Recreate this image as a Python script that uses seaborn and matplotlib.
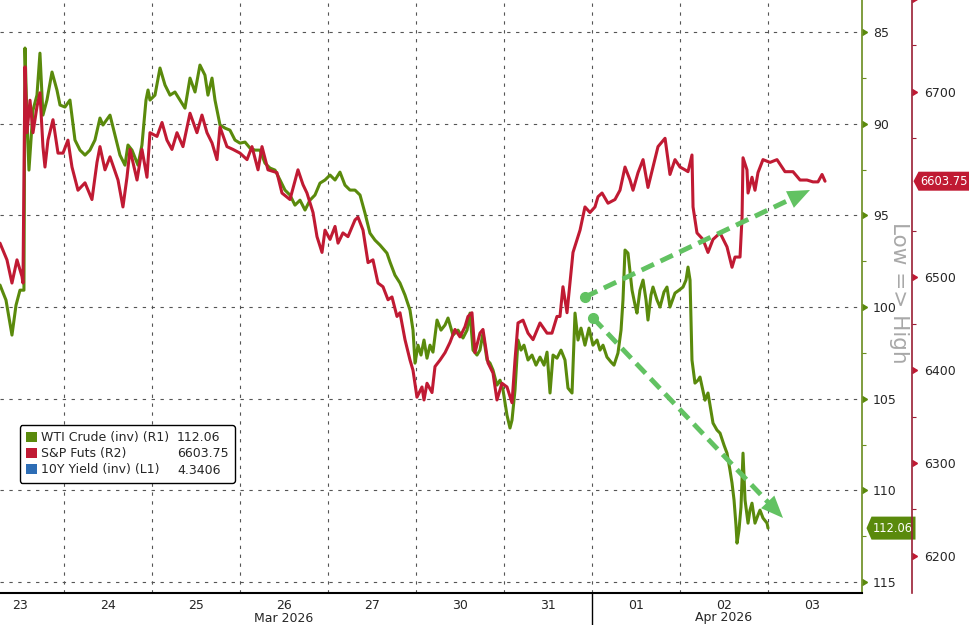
import numpy as np
import matplotlib
matplotlib.use("Agg")
import matplotlib.pyplot as plt
import matplotlib.transforms as mtransforms
from matplotlib.patches import Patch
from matplotlib.path import Path
import seaborn as sns

# trading days on the x axis (0 = Mon 23 Mar ... 9 = Fri 03 Apr)
day_labels = ["23", "24", "25", "26", "27", "30", "31", "01", "02", "03"]
month_labels = ["Mar 2026", "Apr 2026"]
month_centers = [3, 8]
month_break = 6.5

# WTI crude (right axis 1, inverted)
wti_t = [-0.227, -0.159, -0.091, -0.045, 0.000, 0.045, 0.057, 0.080, 0.102, 0.148,
         0.193, 0.227, 0.261, 0.307, 0.364, 0.420, 0.455, 0.511, 0.568, 0.625,
         0.682, 0.739, 0.795, 0.852, 0.909, 0.943, 1.023, 1.080, 1.136, 1.193,
         1.227, 1.273, 1.341, 1.386, 1.432, 1.455, 1.477, 1.534, 1.591, 1.648,
         1.705, 1.761, 1.818, 1.875, 1.932, 1.989, 2.045, 2.102, 2.136, 2.182,
         2.216, 2.273, 2.330, 2.386, 2.443, 2.500, 2.557, 2.614, 2.670, 2.727,
         2.784, 2.841, 2.898, 2.955, 3.011, 3.068, 3.125, 3.182, 3.239, 3.295,
         3.352, 3.409, 3.466, 3.523, 3.580, 3.636, 3.693, 3.750, 3.807, 3.864,
         3.920, 3.977, 4.034, 4.091, 4.170, 4.205, 4.261, 4.318, 4.375, 4.432,
         4.466, 4.489, 4.523, 4.557, 4.591, 4.625, 4.659, 4.693, 4.739, 4.784,
         4.830, 4.864, 4.920, 4.977, 5.034, 5.080, 5.114, 5.148, 5.193, 5.227,
         5.261, 5.307, 5.341, 5.375, 5.420, 5.455, 5.489, 5.534, 5.568, 5.591,
         5.625, 5.659, 5.693, 5.727, 5.773, 5.818, 5.864, 5.909, 5.955, 5.989,
         6.023, 6.057, 6.102, 6.148, 6.193, 6.227, 6.273, 6.307, 6.341, 6.375,
         6.420, 6.466, 6.511, 6.557, 6.591, 6.625, 6.670, 6.716, 6.750, 6.795,
         6.830, 6.852, 6.875, 6.909, 6.955, 6.989, 7.011, 7.045, 7.080, 7.114,
         7.136, 7.170, 7.193, 7.239, 7.273, 7.318, 7.352, 7.386, 7.443, 7.489,
         7.534, 7.568, 7.591, 7.614, 7.636, 7.670, 7.705, 7.727, 7.784, 7.818,
         7.875, 7.920, 7.955, 8.000, 8.034, 8.068, 8.091, 8.114, 8.136, 8.148,
         8.170, 8.193, 8.216, 8.239, 8.273, 8.295, 8.318, 8.352, 8.386, 8.409,
         8.443, 8.489, 8.500]
wti = [98.80, 99.62, 101.53, 99.90, 99.08, 99.08, 85.87, 89.80, 92.53, 89.26,
       88.44, 86.15, 89.53, 88.70, 87.18, 88.16, 88.98, 89.09, 88.71, 90.89,
       91.44, 91.71, 91.44, 90.89, 89.69, 90.07, 89.53, 90.62, 91.71, 92.26,
       91.16, 91.44, 92.26, 91.16, 88.71, 88.16, 88.71, 88.44, 86.96, 87.89,
       88.44, 88.27, 88.71, 89.15, 87.51, 88.27, 86.80, 87.35, 88.44, 87.51,
       88.71, 90.07, 90.24, 90.35, 90.89, 91.06, 91.00, 91.33, 91.44, 91.44,
       92.15, 92.42, 92.53, 93.07, 93.62, 93.89, 94.44, 94.17, 94.71, 94.17,
       93.89, 93.24, 93.07, 92.80, 93.07, 92.64, 93.35, 93.62, 93.62, 93.89,
       94.87, 95.97, 96.35, 96.62, 97.06, 97.55, 98.26, 98.69, 99.35, 100.17,
       101.26, 103.06, 102.08, 102.62, 101.80, 102.79, 102.08, 102.46, 100.71, 101.26,
       100.98, 100.60, 101.53, 101.26, 101.69, 101.26, 100.33, 102.35, 102.62, 102.35,
       101.42, 102.89, 103.06, 103.44, 104.26, 103.99, 104.53, 105.90, 106.60, 106.17,
       104.53, 101.80, 102.35, 102.08, 102.89, 102.62, 103.17, 102.73, 103.17, 102.46,
       104.69, 102.62, 102.79, 102.35, 102.89, 104.42, 104.69, 100.33, 101.80, 101.15,
       102.08, 101.15, 102.08, 101.80, 102.35, 102.08, 102.73, 103.00, 103.17, 102.51,
       101.26, 99.62, 96.89, 97.06, 99.08, 99.89, 100.33, 99.08, 98.53, 99.62,
       100.71, 99.35, 98.91, 99.62, 100.00, 99.18, 98.91, 100.00, 99.24, 99.08,
       98.91, 98.53, 97.82, 98.53, 102.89, 104.15, 103.99, 103.82, 105.08, 104.69,
       106.33, 106.71, 106.88, 107.53, 107.97, 108.90, 109.60, 110.53, 111.90, 112.88,
       112.17, 110.91, 107.97, 110.53, 111.79, 111.08, 110.70, 111.79, 111.35, 111.08,
       111.51, 111.79, 112.06]

# S&P futures (right axis 2)
spx_t = [-0.227, -0.148, -0.091, -0.034, 0.023, 0.034, 0.057, 0.080, 0.114, 0.148,
         0.193, 0.227, 0.261, 0.284, 0.318, 0.375, 0.432, 0.489, 0.545, 0.591,
         0.659, 0.739, 0.818, 0.875, 0.909, 0.966, 1.023, 1.114, 1.170, 1.216,
         1.250, 1.330, 1.386, 1.443, 1.477, 1.557, 1.614, 1.670, 1.727, 1.784,
         1.852, 1.932, 2.011, 2.068, 2.125, 2.182, 2.239, 2.273, 2.352, 2.420,
         2.500, 2.580, 2.636, 2.705, 2.750, 2.818, 2.920, 2.977, 3.068, 3.159,
         3.216, 3.261, 3.330, 3.375, 3.432, 3.466, 3.523, 3.580, 3.614, 3.670,
         3.727, 3.807, 3.841, 3.898, 3.955, 4.011, 4.068, 4.125, 4.182, 4.227,
         4.284, 4.318, 4.375, 4.432, 4.466, 4.511, 4.568, 4.591, 4.625, 4.682,
         4.716, 4.773, 4.830, 4.886, 4.943, 5.000, 5.057, 5.091, 5.136, 5.170,
         5.227, 5.261, 5.318, 5.375, 5.420, 5.477, 5.534, 5.591, 5.625, 5.659,
         5.716, 5.773, 5.830, 5.909, 5.989, 6.045, 6.102, 6.136, 6.170, 6.216,
         6.250, 6.284, 6.330, 6.364, 6.420, 6.477, 6.534, 6.568, 6.614, 6.682,
         6.761, 6.818, 6.875, 6.932, 6.966, 7.023, 7.080, 7.136, 7.193, 7.250,
         7.330, 7.386, 7.443, 7.500, 7.557, 7.591, 7.636, 7.648, 7.693, 7.761,
         7.818, 7.875, 7.955, 8.034, 8.091, 8.125, 8.182, 8.205, 8.216, 8.261,
         8.273, 8.318, 8.352, 8.386, 8.443, 8.523, 8.602, 8.693, 8.784, 8.864,
         8.943, 9.011, 9.068, 9.114, 9.148]
spx = [6537, 6519, 6494, 6519, 6501, 6494, 6727, 6656, 6691, 6656,
       6684, 6699, 6641, 6619, 6648, 6670, 6634, 6634, 6648, 6619,
       6594, 6602, 6584, 6624, 6641, 6616, 6630, 6605, 6576, 6608,
       6638, 6605, 6638, 6608, 6656, 6652, 6667, 6648, 6638, 6656,
       6641, 6677, 6656, 6675, 6656, 6645, 6627, 6662, 6641, 6638,
       6634, 6627, 6641, 6616, 6641, 6616, 6613, 6591, 6584, 6616,
       6600, 6591, 6570, 6544, 6527, 6551, 6541, 6555, 6537, 6548,
       6544, 6562, 6565, 6551, 6516, 6519, 6494, 6490, 6476, 6479,
       6458, 6462, 6433, 6411, 6400, 6371, 6382, 6368, 6386, 6376,
       6404, 6411, 6419, 6430, 6444, 6436, 6447, 6458, 6462, 6419,
       6440, 6444, 6408, 6397, 6368, 6386, 6382, 6365, 6411, 6451,
       6454, 6440, 6433, 6451, 6440, 6440, 6458, 6458, 6490, 6462,
       6494, 6527, 6541, 6551, 6576, 6570, 6576, 6587, 6591, 6580,
       6584, 6594, 6619, 6605, 6594, 6613, 6627, 6597, 6619, 6641,
       6650, 6611, 6627, 6619, 6616, 6614, 6632, 6576, 6548, 6541,
       6527, 6541, 6548, 6533, 6511, 6522, 6522, 6565, 6629, 6616,
       6591, 6608, 6594, 6613, 6627, 6624, 6627, 6614, 6614, 6605,
       6605, 6603, 6603, 6611, 6603.75]

wti_ticks = [85, 90, 95, 100, 105, 110, 115]
wti_minor = [87.5, 92.5, 97.5, 102.5, 107.5, 112.5]
# 6600 sits under the last-value tag, so it is not labelled
spx_ticks = [6200, 6300, 6400, 6500, 6700]
spx_marks = [6200, 6300, 6400, 6500, 6700, 6800]
spx_minor = [6250, 6350, 6450, 6550, 6650, 6750]

legend_names = ["WTI Crude (inv) (R1)", "S&P Futs (R2)", "10Y Yield (inv) (L1)"]
legend_values = ["112.06", "6603.75", "4.3406"]
wti_last = 112.06
spx_last = 6603.75

GREEN = "#5a8a0c"
RED = "#c01a33"
BLUE = "#2d6db5"
GREEN_AX = "#6a8c1e"
RED_AX = "#9a1f35"
ARROW = "#62c262"

sns.set_style("white")
plt.rcParams["font.family"] = ["DejaVu Sans"]

W, H = 970, 625
PW, PH, PB = 862, 593, 32
fig = plt.figure(figsize=(W / 100, H / 100), dpi=100)
ax = fig.add_axes([0, PB / H, PW / W, PH / H])
ax2 = ax.twinx()

sns.lineplot(x=wti_t, y=wti, ax=ax, color=GREEN, linewidth=2.2,
             estimator=None, sort=False, legend=False)
sns.lineplot(x=spx_t, y=spx, ax=ax2, color=RED, linewidth=2.2,
             estimator=None, sort=False, legend=False)

ax.set_xlim(-0.227, 9.568)
ax.set_ylim(115.6, 83.25)
ax2.set_ylim(6160, 6799)

# x axis
ax.set_xticks(range(len(day_labels)))
ax.set_xticklabels(day_labels)
ax.set_xticks(np.arange(0.5, 9, 1), minor=True)
ax.tick_params(axis="x", which="both", length=0, pad=4, labelsize=9)
trans_x = mtransforms.blended_transform_factory(ax.transData, ax.transAxes)
for lab, c in zip(month_labels, month_centers):
    ax.text(c, -25 / PH, lab, transform=trans_x, ha="center", va="center", fontsize=9)
ax.plot([month_break, month_break], [0, -PB / PH], color="black", lw=1,
        transform=trans_x, clip_on=False)

# grid
grid_kw = dict(color="#555555", linewidth=0.8, linestyle=(0, (3, 5)))
ax.grid(True, which="minor", axis="x", **grid_kw)
ax.grid(True, which="major", axis="y", **grid_kw)

# right axis 1 (WTI)
ax.yaxis.tick_right()
ax.set_yticks(wti_ticks)
ax.set_yticks(wti_minor, minor=True)
ax.tick_params(axis="y", which="major", length=0, pad=8, labelsize=9)
ax.tick_params(axis="y", which="minor", length=3, width=0.8, color=GREEN_AX, direction="out")
trans_g = mtransforms.blended_transform_factory(ax.transAxes, ax.transData)
ax.plot([1.0] * len(wti_ticks), wti_ticks, ls="", marker=9, ms=5, color=GREEN,
        transform=trans_g, clip_on=False)

# right axis 2 (S&P)
ax2.spines["right"].set_position(("outward", 36))
ax2.set_yticks(spx_ticks)
ax2.set_yticks(spx_minor, minor=True)
ax2.tick_params(axis="y", which="major", length=0, pad=9, labelsize=9)
ax2.tick_params(axis="y", which="minor", length=3, width=0.8, color=RED_AX, direction="out")
x2 = 1 + 50 / PW
trans_r = mtransforms.blended_transform_factory(ax2.transAxes, ax2.transData)
ax2.plot([x2] * len(spx_marks), spx_marks, ls="", marker=9, ms=5, color=RED,
         transform=trans_r, clip_on=False)

for s in ["top", "left"]:
    ax.spines[s].set_visible(False)
    ax2.spines[s].set_visible(False)
ax2.spines["bottom"].set_visible(False)
ax.spines["bottom"].set_color("black")
ax.spines["bottom"].set_linewidth(1.5)
ax.spines["right"].set_color(GREEN_AX)
ax.spines["right"].set_linewidth(1.2)
ax2.spines["right"].set_color(RED_AX)
ax2.spines["right"].set_linewidth(1.2)
ax.set_ylabel("")
ax2.set_ylabel("")


def tag_box(half_h):
    # price tag: rectangle with a pointed left end
    def shape(x0, y0, width, height, mutation_size):
        cy = y0 + height / 2
        l, r = x0 - 1.5, x0 + width + 2.5
        b, t = cy - half_h, cy + half_h
        verts = [(l, b), (r, b), (r, t), (l, t), (l - 5, cy), (l, b)]
        return Path(verts, closed=True)
    return shape


# last value tags
tag_kw = dict(ha="left", va="center", color="white", fontsize=8.3, clip_on=False, zorder=6)
ax.text(1 + 11 / PW, wti_last, f"{wti_last:.2f}", transform=trans_g,
        bbox=dict(boxstyle=tag_box(11.5), fc=GREEN, ec="none"), **tag_kw)
ax2.text(x2 + 8 / PW, spx_last, f"{spx_last:.2f}", transform=trans_r,
         bbox=dict(boxstyle=tag_box(9.5), fc=RED, ec="none"), **tag_kw)

fig.text(899 / W, 1 - 293 / H, "Low => High", rotation=270, ha="center", va="center",
         fontsize=15.5, color="#a8a8a8")

# annotation arrows (axes fraction)
arrows = [((585 / PW, 1 - 297 / PH), (810 / PW, 1 - 190 / PH)),
          ((593 / PW, 1 - 318 / PH), (783 / PW, 1 - 518 / PH))]
for (x0, y0), (x1, y1) in arrows:
    xe, ye = x0 + 0.93 * (x1 - x0), y0 + 0.93 * (y1 - y0)
    ax2.plot([x0, xe], [y0, ye], color=ARROW, lw=3.5, linestyle=(0, (2.8, 1.5)),
             transform=ax2.transAxes, solid_capstyle="butt", zorder=7)
    ax2.plot([x0], [y0], marker="o", ms=7, color=ARROW, transform=ax2.transAxes, zorder=7)
    ax2.annotate("", xy=(x1, y1), xytext=(x0, y0), xycoords="axes fraction",
                 textcoords="axes fraction",
                 arrowprops=dict(arrowstyle="-|>,head_length=0.8,head_width=0.33",
                                 mutation_scale=20, color=ARROW, lw=0,
                                 shrinkA=0, shrinkB=0), zorder=7)

handles = [Patch(fc=c, ec="none") for c in [GREEN, RED, BLUE]] + \
          [Patch(fc="none", ec="none") for _ in legend_values]
leg = ax2.legend(handles, legend_names + legend_values, ncol=2, loc="upper left",
                 bbox_to_anchor=(20 / PW, 1 - 425 / PH), borderaxespad=0, fontsize=9,
                 handlelength=0.9, handleheight=0.9, handletextpad=0.3,
                 columnspacing=-0.6, labelspacing=0.25, borderpad=0.5,
                 frameon=True, fancybox=True, framealpha=1, edgecolor="black")
leg.get_frame().set_linewidth(1.0)
leg.set_zorder(10)

fig.savefig("out.png", dpi=100)
